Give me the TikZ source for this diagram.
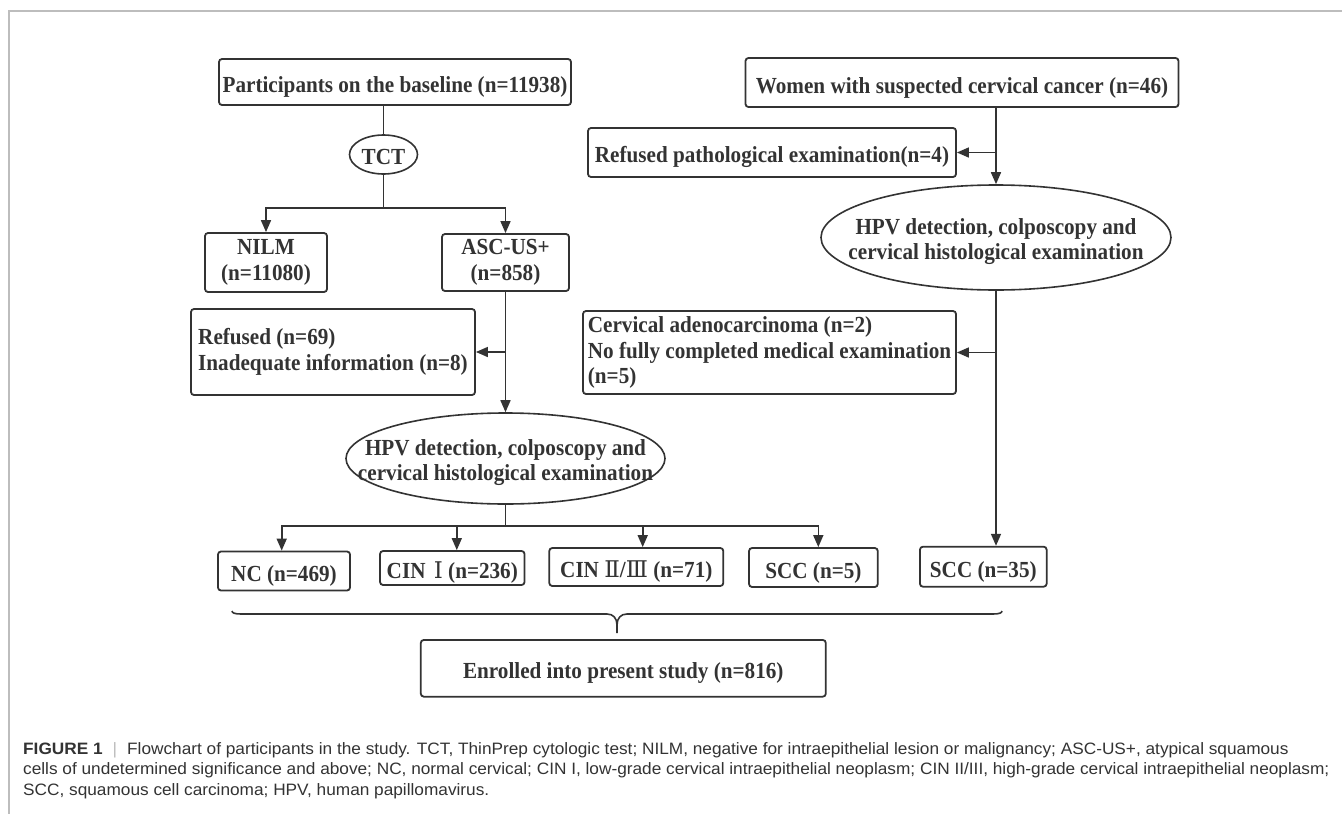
\documentclass[tikz,border=0pt]{standalone}
\usepackage{fontspec}
\setmainfont{Liberation Serif}[FakeStretch=0.92]
\setsansfont{Liberation Sans}[FakeStretch=1.045]
\newfontfamily\numeralfont{DejaVu Serif}
\usepackage{tikz}
\usetikzlibrary{arrows.meta}
\usetikzlibrary{shapes.geometric}

\definecolor{ink}{HTML}{333333}
\definecolor{framegray}{HTML}{BDBDBD}
\newcommand{\boxfont}{\fontsize{23}{25.5}\selectfont\bfseries}
\newcommand{\capfont}{\fontsize{16.5}{20.5}\selectfont\sffamily}
\newcommand{\romnum}[1]{{\numeralfont\mdseries #1}}

\begin{document}
\begin{tikzpicture}[x=1pt, y=-1pt,
		lift/.style={execute at begin node={\rule{0pt}{#1}}},
		box/.style={draw=ink, line width=1.8pt, rounded corners=3pt, inner sep=0pt, text=ink, font=\boxfont, lift=26pt},
		oval/.style={draw=ink, line width=1.6pt, ellipse, inner sep=0pt, text=ink, font=\boxfont},
		link/.style={draw=ink, line width=1.6pt},
		arr/.style={link, -{Triangle[length=12pt, width=10pt]}},
		captext/.style={anchor=base west, inner sep=0pt, text=ink, font=\capfont}]
	\path[use as bounding box, fill=white] (0,0) rectangle (1342,814);
	\draw[framegray, line width=1.5pt] (9,814) -- (9,11) -- (1342,11);

	\node[box, minimum width=352pt, minimum height=46pt] (base) at (395,82) {Participants on the baseline (n=11938)};
	\node[oval, lift=21pt, minimum width=68pt, minimum height=39pt] (tct) at (383.5,154.5) {TCT};
	\node[box, align=center, minimum width=122pt, minimum height=59pt] (nilm) at (266,262.5) {NILM\\(n=11080)};
	\node[box, align=center, minimum width=127pt, minimum height=57pt] (asc) at (505.5,262.5) {ASC-US+\\(n=858)};
	\node[box, align=left, minimum width=284pt, minimum height=86pt] (refused) at (333,352) {Refused (n=69)\\Inadequate information (n=8)};
	\node[oval, minimum width=319pt, minimum height=91pt] (hpvL) at (505.5,458.5) {};
	\node[align=center, text=ink, font=\boxfont] (hpvLtext) at ([yshift=-4pt]hpvL.center) {HPV detection, colposcopy and\\cervical histological examination};

	\node[box, minimum width=433pt, minimum height=49pt] (women) at (962,82.5) {Women with suspected cervical cancer (n=46)};
	\node[box, minimum width=368pt, minimum height=49pt] (refpath) at (772,152.5) {Refused pathological examination(n=4)};
	\node[oval, minimum width=350pt, minimum height=105pt] (hpvR) at (996,237.5) {};
	\node[align=center, text=ink, font=\boxfont] (hpvRtext) at ([yshift=-4pt]hpvR.center) {HPV detection, colposcopy and\\cervical histological examination};
	\node[box, align=left, minimum width=373pt, minimum height=83pt] (adeno) at (769.5,352.5) {Cervical adenocarcinoma (n=2)\\No fully completed medical examination\\(n=5)};

	\node[box, minimum width=132pt, minimum height=39pt] (nc) at (284,571) {NC (n=469)};
	\node[box, minimum width=144.5pt, minimum height=34pt] (cin1) at (452.3,568) {CIN\hspace{3pt} \romnum{Ⅰ} (n=236)};
	\node[box, minimum width=174pt, minimum height=38pt] (cin23) at (636.3,567) {CIN \romnum{Ⅱ}/\romnum{Ⅲ} (n=71)};
	\node[box, minimum width=128.7pt, minimum height=39pt] (scc5) at (813.4,567.5) {SCC (n=5)};
	\node[box, minimum width=126.7pt, minimum height=40pt] (scc35) at (983.3,566.7) {SCC (n=35)};
	\node[box, minimum width=405pt, minimum height=56.7pt] (enrolled) at (623.3,668.3) {Enrolled into present study (n=816)};

	\draw[link] (base.south -| tct.north) -- (tct.north);
	\draw[link] (tct.south) -- ++(0,33) coordinate (fork1);
	\draw[arr] (fork1) -| (nilm.north);
	\draw[arr] (fork1) -| (asc.north);
	\draw[arr] (asc.south) -- (hpvL.north);
	\draw[arr] (refused.east -| asc.south) -- (refused.east);
	\draw[link] (hpvL.south) -- ++(0,21) coordinate (fork2);
	\foreach \leaf/\dx in {nc/-2.3, cin1/4.5, cin23/6.4, scc5/4.9}
		\draw[arr] (fork2) -| ([xshift=\dx pt]\leaf.north);

	\draw[arr] (women.south -| hpvR.north) -- (hpvR.north);
	\draw[arr] (refpath.east -| hpvR.north) -- (refpath.east);
	\draw[arr] (hpvR.south) -- (hpvR.south |- scc35.north);
	\draw[arr] (adeno.east -| hpvR.south) -- (adeno.east);

	\draw[link] (232,611) .. controls (232,613) and (235,614) .. (241,614) -- (607,614) .. controls (613,614) and (617,618) .. (617,625) -- (617,633);
	\draw[link] (617,625) .. controls (617,618) and (621,614) .. (627,614) -- (993,614) .. controls (999,614) and (1002,613) .. (1002,611);

	\node[captext] (cap1) at (23,754) {\textbf{FIGURE 1}\hspace{10pt}\textcolor{framegray}{|}\hspace{10pt}Flowchart of participants in the study. TCT, ThinPrep cytologic test; NILM, negative for intraepithelial lesion or malignancy; ASC-US+, atypical squamous};
	\node[captext] (cap2) at (23,774.5) {cells of undetermined significance and above; NC, normal cervical; CIN I, low-grade cervical intraepithelial neoplasm; CIN II/III, high-grade cervical intraepithelial neoplasm;};
	\node[captext] (cap3) at (23,795) {SCC, squamous cell carcinoma; HPV, human papillomavirus.};
\end{tikzpicture}
\end{document}
